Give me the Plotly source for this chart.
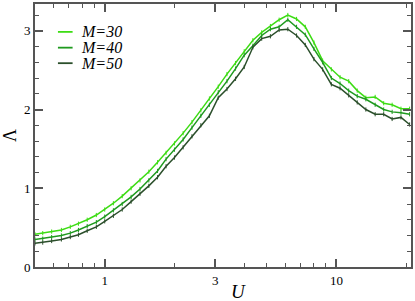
import plotly.graph_objects as go

U = [0.50, 0.54, 0.59, 0.65, 0.71, 0.77, 0.84, 0.92, 1.00, 1.09, 1.19, 1.30, 1.42, 1.55,
     1.69, 1.84, 2.00, 2.18, 2.38, 2.60, 2.83, 3.09, 3.37, 3.67, 4.00, 4.36, 4.76, 5.19,
     5.66, 6.17, 6.73, 7.34, 8.00, 8.72, 9.51, 10.37, 11.3, 12.3, 13.4, 14.7, 16.0, 17.4,
     19.0, 20.7]

lam_M30 = [0.415, 0.43, 0.45, 0.47, 0.51, 0.55, 0.60, 0.66, 0.73, 0.81, 0.90, 1.00, 1.10, 1.21,
           1.33, 1.45, 1.57, 1.70, 1.84, 1.99, 2.14, 2.29, 2.45, 2.59, 2.74, 2.88, 2.98, 3.06,
           3.14, 3.20, 3.15, 3.05, 2.85, 2.62, 2.51, 2.41, 2.36, 2.24, 2.15, 2.16, 2.08, 2.06,
           2.01, 2.01]

lam_M40 = [0.35, 0.36, 0.38, 0.40, 0.43, 0.47, 0.52, 0.57, 0.64, 0.72, 0.80, 0.89, 0.99, 1.10,
           1.22, 1.37, 1.49, 1.62, 1.77, 1.92, 2.06, 2.22, 2.36, 2.52, 2.69, 2.81, 2.94, 3.02,
           3.05, 3.14, 3.05, 2.95, 2.77, 2.60, 2.40, 2.33, 2.24, 2.17, 2.13, 2.06, 2.00, 1.97,
           1.96, 1.94]

lam_M50 = [0.30, 0.31, 0.33, 0.35, 0.38, 0.41, 0.46, 0.51, 0.58, 0.65, 0.73, 0.83, 0.93, 1.03,
           1.14, 1.28, 1.39, 1.52, 1.66, 1.80, 1.92, 2.15, 2.26, 2.39, 2.54, 2.79, 2.90, 2.93,
           3.01, 3.02, 2.94, 2.82, 2.64, 2.51, 2.32, 2.27, 2.18, 2.09, 2.00, 1.94, 1.94, 1.88,
           1.90, 1.81]

series_names = ["M=30", "M=40", "M=50"]
series_values = [lam_M30, lam_M40, lam_M50]
colors = ["#3ddc14", "#1f9a1f", "#2b4f2b"]

x_ticks = [1, 3, 10]
x_minor = [0.6, 0.7, 0.8, 0.9, 2, 4, 5, 6, 7, 8, 9, 20]
y_ticks = [0, 1, 2, 3]

SERIF = "Liberation Serif"

fig = go.Figure()
for name, vals, col in zip(series_names, series_values, colors):
    fig.add_trace(go.Scatter(
        x=U, y=vals, mode="lines+markers", name=name,
        line=dict(color=col, width=1.5),
        marker=dict(symbol="line-ns", size=3, line=dict(color=col, width=1)),
        showlegend=False,
    ))

# manual legend (line samples + labels)
leg_y = [0.894, 0.834, 0.775]
shapes = []
annotations = []
for name, col, yy in zip(series_names, colors, leg_y):
    shapes.append(dict(type="line", xref="paper", yref="paper", x0=0.061, x1=0.100,
                       y0=yy, y1=yy, line=dict(color=col, width=1.8)))
    annotations.append(dict(xref="paper", yref="paper", x=0.118, y=yy, xanchor="left",
                            yanchor="middle", showarrow=False,
                            text="<i>" + name + "</i>",
                            font=dict(family=SERIF, size=16, color="black")))

# x-axis title as annotation (placed like the reference)
annotations.append(dict(xref="paper", yref="paper", x=0.54, y=0, yanchor="top",
                        yshift=-12, showarrow=False, text="<i>U</i>",
                        font=dict(family=SERIF, size=19, color="black")))

axis_common = dict(
    showline=True, linecolor="#555555", linewidth=2, mirror="ticks",
    ticks="inside", tickcolor="#555555", tickwidth=1.5, ticklen=8,
    showgrid=False, zeroline=False,
    tickfont=dict(family=SERIF, size=13, color="black"),
)

fig.update_layout(
    width=415, height=301,
    margin=dict(l=35, r=2, t=2, b=34),
    plot_bgcolor="white", paper_bgcolor="white",
    font=dict(family=SERIF),
    shapes=shapes, annotations=annotations,
    xaxis=dict(type="log", range=[-0.301, 1.322], tickmode="array", tickvals=x_ticks,
               ticktext=[str(v) for v in x_ticks],
               minor=dict(tickmode="array", tickvals=x_minor, ticks="inside", ticklen=4,
                          tickcolor="#555555", tickwidth=1.2),
               **axis_common),
    yaxis=dict(range=[0, 3.34], tickmode="array", tickvals=y_ticks,
               minor=dict(dtick=0.2, ticks="inside", ticklen=4, tickcolor="#555555", tickwidth=1.2),
               title=dict(text="Λ", font=dict(family=SERIF, size=18, color="black"),
                          standoff=6),
               **axis_common),
)

fig.write_html("out.html", config={"displayModeBar": False},
               post_script="document.body.style.margin='0';")
